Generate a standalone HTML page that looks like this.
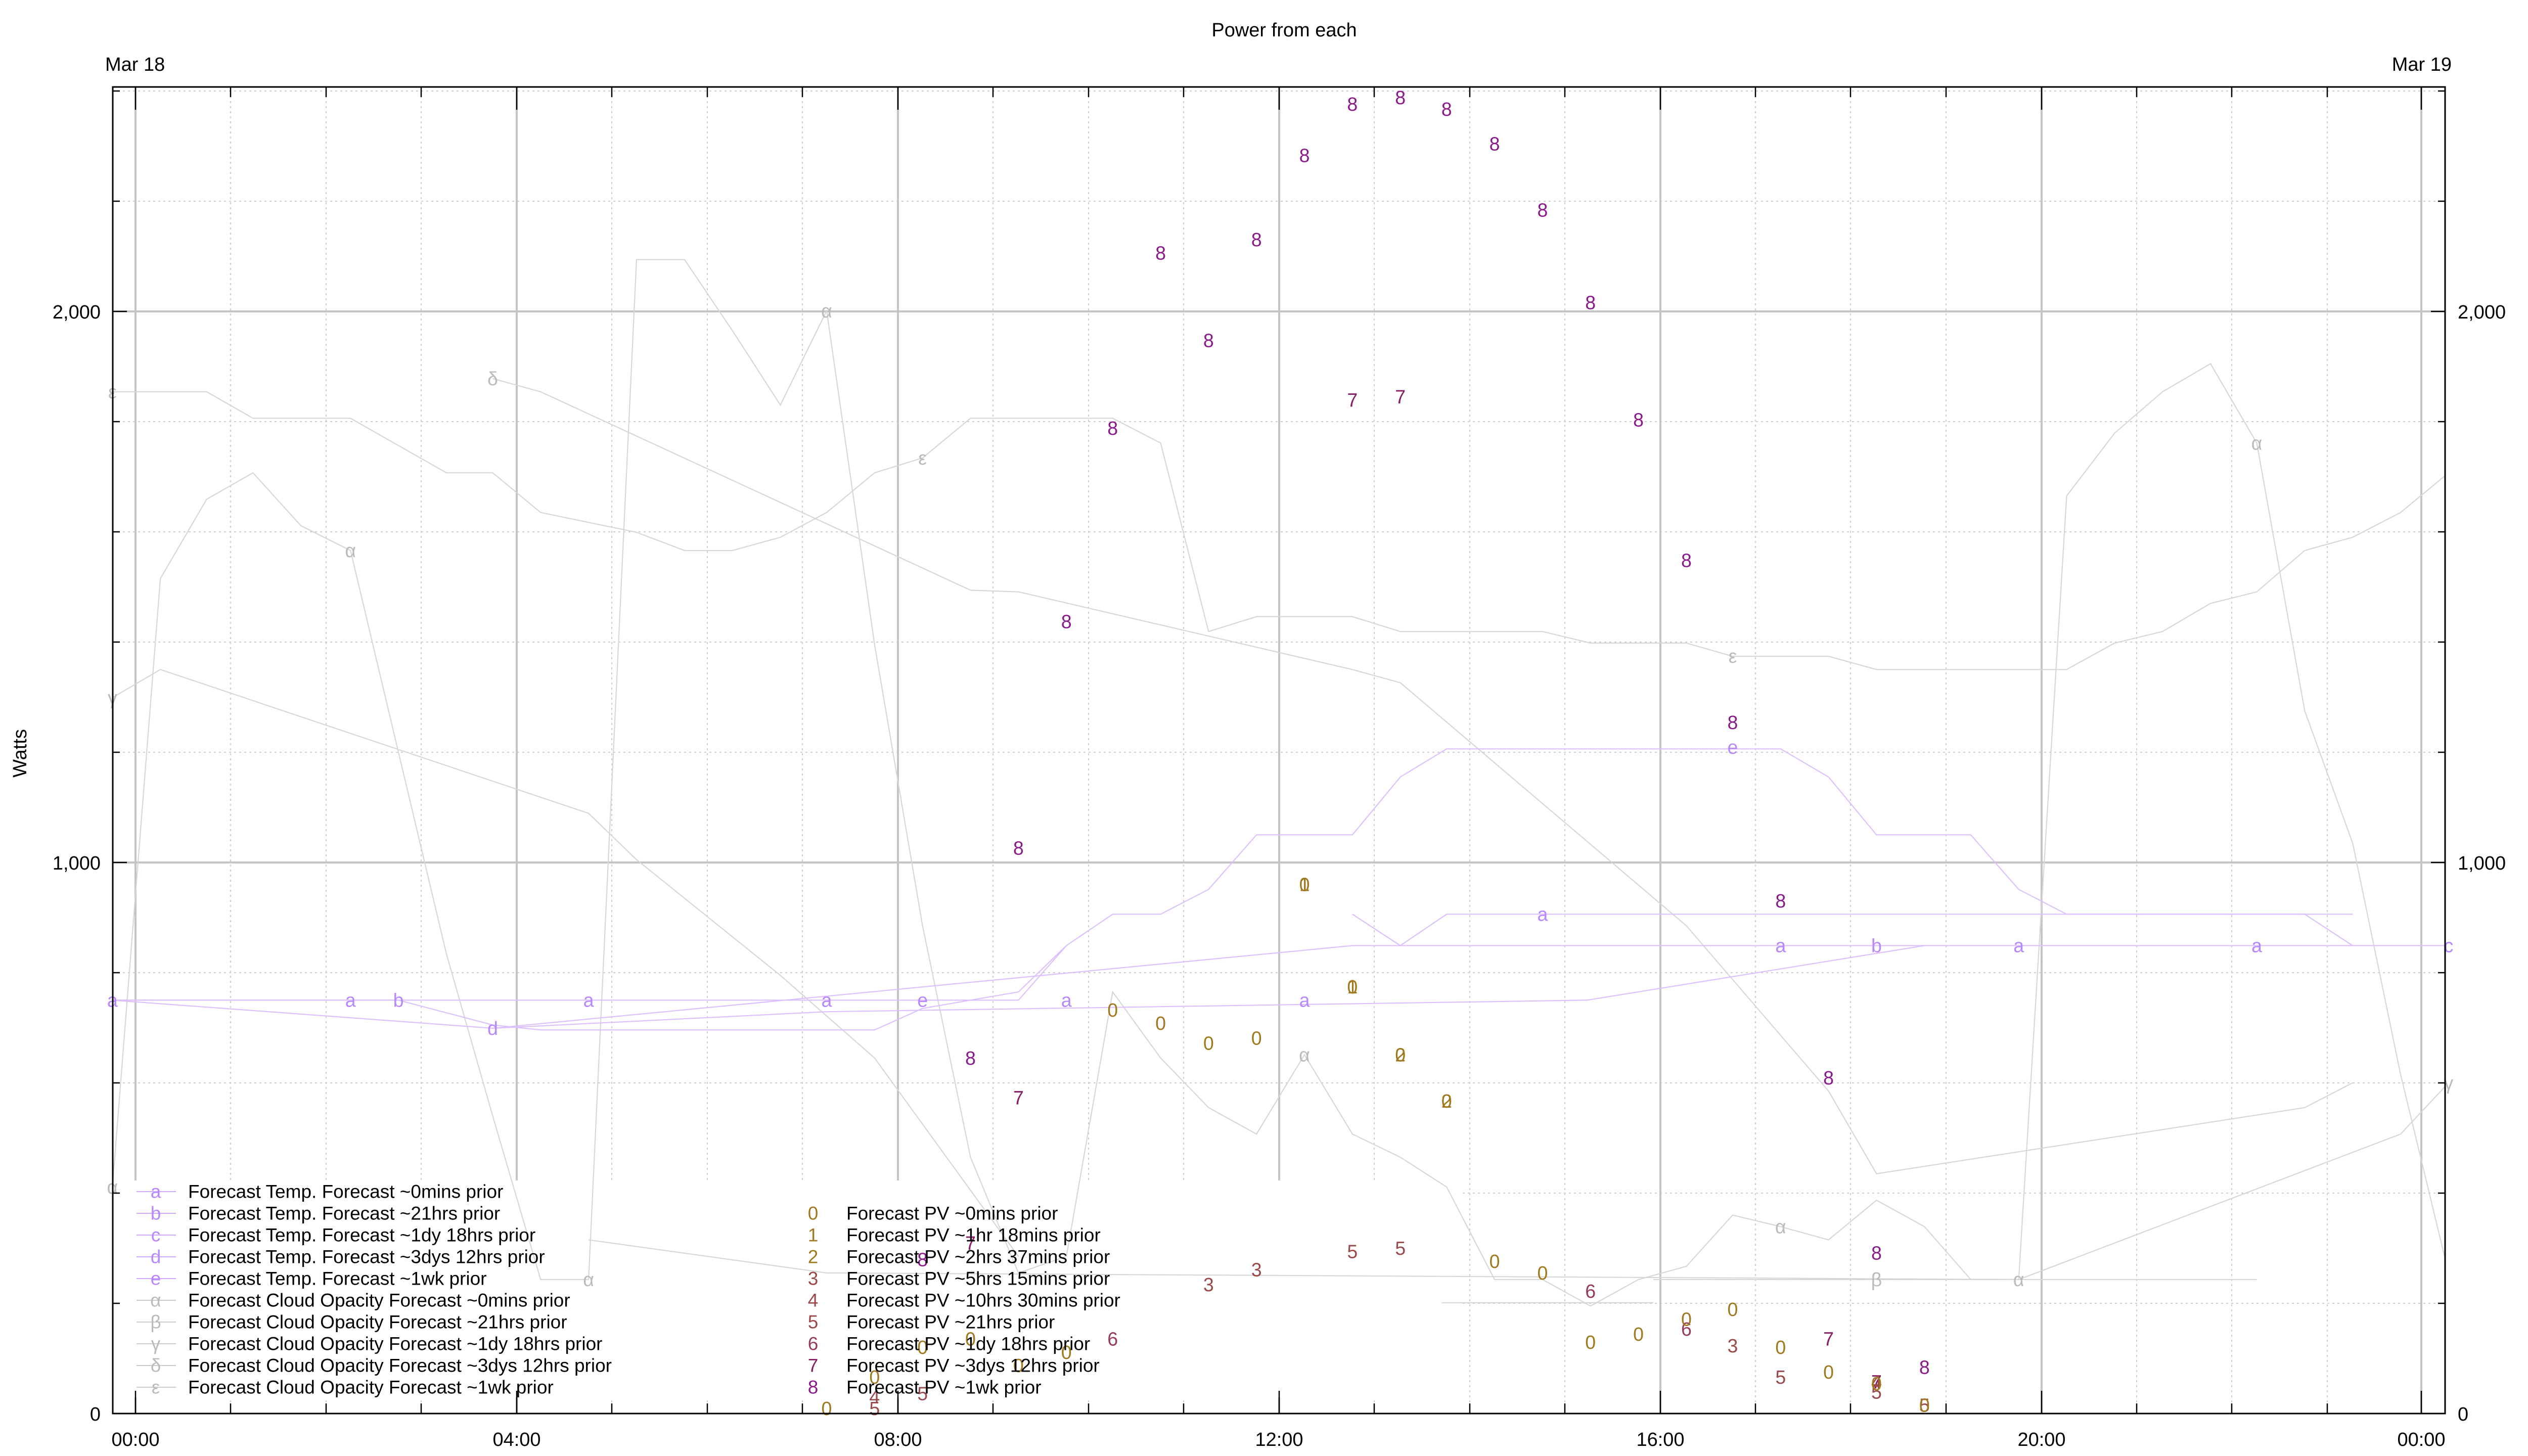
<!DOCTYPE html>
<html><head><meta charset="utf-8"><style>
html,body{margin:0;padding:0;background:#fff}
svg{display:block}
text{font-family:"Liberation Sans",sans-serif}
</style></head><body>
<svg width="5120" height="2880" viewBox="0 0 5120 2880" xmlns="http://www.w3.org/2000/svg">
<rect width="5120" height="2880" fill="#fff"/>
<defs><clipPath id="pc"><rect x="223" y="172" width="4613" height="2624"/></clipPath></defs>
<!-- grid -->
<g stroke="#cfcfcf" stroke-width="2" stroke-dasharray="4,6" fill="none">
<path d="M456 180V2796M645 180V2796M833 180V2796M1022 180V2796M1210 180V2796M1399 180V2796M1587 180V2796M1964 180V2796M2153 180V2796M2341 180V2796M2718 180V2796M2907 180V2796M3095 180V2796M3472 180V2796M3660 180V2796M3849 180V2796M4226 180V2796M4414 180V2796M4603 180V2796"/>
<path d="M223 180H4836M223 398H4836M223 834H4836M223 1052H4836M223 1270H4836M223 1488H4836M223 1924H4836M223 2142H4836M223 2360H4836M223 2578H4836"/>
</g>
<g stroke="#c4c4c4" stroke-width="4" fill="none">
<path d="M268 172V2796M1022 172V2796M1776 172V2796M2530 172V2796M3284 172V2796M4038 172V2796M4789 172V2796"/>
<path d="M223 616H4836M223 1706H4836"/>
</g>
<!-- legend box -->
<rect x="225" y="2335" width="2663" height="429" fill="#fff"/>
<!-- data (preview coords) -->
<g clip-path="url(#pc)">
<g transform="scale(3.27)" fill="none" stroke-width="0.65">
<g stroke="#d6d6d6">
<polyline points="68,718 97,350 125,302 153,286 182,318 212,333 241,455 270,577 298,675 327,774 356,774 385,157 414,157 443,200 472,245 500,188 529,390 558,560 587,700 616,770 645,760 673,600 702,640 731,670 760,686 789,638 818,686 847,700 875,718 904,774 933,774 962,790 991,774 1020,766 1048,735 1077,742 1106,750 1135,726 1164,742 1192,774 1221,774 1250,300 1279,262 1308,237 1337,220 1365,268 1394,430 1423,510 1452,650 1481,770"/>
<polyline points="68,237 125,237 153,253 212,253 270,286 298,286 327,310 385,322 414,333 443,333 472,325 500,310 529,286 558,277 587,253 673,253 702,268 731,382 760,373 818,373 847,382 933,382 962,389 1020,389 1048,397 1106,397 1135,405 1250,405 1279,389 1308,382 1337,365 1365,358 1394,333 1423,325 1452,310 1481,286"/>
<polyline points="298,229 327,237 587,357 616,358 818,405 847,413 1020,560 1106,660 1135,710 1394,670 1423,655"/>
<polyline points="68,422 97,405 356,492 385,520 472,590 529,640 587,720 616,760"/>
<polyline points="356,750 500,770 1221,774 1452,686 1481,655"/>
<polyline points="872,788 1000,788"/>
<polyline points="1000,774 1365,774"/>
</g>
<g stroke="#dcbfff">
<polyline points="68,605 616,605 645,572 673,553 702,553 731,538 760,505 818,505 847,470 875,453 1077,453 1106,470 1135,505 1192,505 1221,538 1250,553 1423,553"/>
<polyline points="68,605 241,605 298,620 327,623 529,623 558,610 616,600 645,572"/>
<polyline points="298,622 500,612 960,605 1164,572 1481,572"/>
<polyline points="68,605 298,622 818,572 1481,572"/>
<polyline points="818,553 847,572 875,553 1394,553 1423,572"/>
</g>
</g>
</g>
<!-- markers -->
<g transform="scale(3.27)" font-size="11.5" text-anchor="middle" dominant-baseline="central">
<g fill="#b888ff">
<text x="68" y="605">a</text><text x="212" y="605">a</text><text x="356" y="605">a</text><text x="500" y="605">a</text><text x="645" y="605">a</text><text x="789" y="605">a</text><text x="933" y="553">a</text><text x="1077" y="572">a</text><text x="1221" y="572">a</text><text x="1365" y="572">a</text>
<text x="241" y="605">b</text><text x="1135" y="572">b</text><text x="1481" y="572">c</text><text x="298" y="622">d</text>
<text x="558" y="605">e</text><text x="1048" y="452">e</text>
</g>
<g fill="#bbb">
<text x="68" y="718">α</text><text x="212" y="333">α</text><text x="356" y="774">α</text><text x="500" y="188">α</text><text x="789" y="638">α</text><text x="1077" y="742">α</text><text x="1221" y="774">α</text><text x="1365" y="268">α</text>
<text x="1135" y="774">β</text><text x="68" y="422">γ</text><text x="1481" y="655">γ</text><text x="298" y="229">δ</text>
<text x="68" y="237">ε</text><text x="558" y="277">ε</text><text x="1048" y="397">ε</text>
</g>
<g fill="#8b1a8b">
<text x="702" y="153">8</text><text x="731" y="206">8</text><text x="760" y="145">8</text><text x="789" y="94">8</text><text x="818" y="63">8</text><text x="847" y="59">8</text><text x="875" y="66">8</text><text x="904" y="87">8</text><text x="933" y="127">8</text><text x="962" y="183">8</text><text x="991" y="254">8</text><text x="1020" y="339">8</text><text x="1048" y="437">8</text><text x="1077" y="545">8</text><text x="1106" y="652">8</text><text x="1135" y="758">8</text><text x="1164" y="827">8</text><text x="673" y="259">8</text><text x="645" y="376">8</text><text x="616" y="513">8</text><text x="587" y="640">8</text><text x="558" y="762">8</text>
</g>
<g fill="#8a1e64">
<text x="818" y="242">7</text><text x="847" y="240">7</text><text x="616" y="664">7</text><text x="587" y="752">7</text><text x="1106" y="810">7</text><text x="1135" y="836">7</text>
</g>
<g fill="#963c5a"><text x="962" y="781">6</text><text x="673" y="810">6</text><text x="1020" y="804">6</text></g>
<g fill="#9a4a4a">
<text x="731" y="777">3</text><text x="760" y="768">3</text><text x="1048" y="814">3</text>
<text x="529" y="845">4</text><text x="1135" y="836">4</text>
<text x="818" y="757">5</text><text x="847" y="755">5</text><text x="1077" y="833">5</text><text x="1135" y="842">5</text><text x="529" y="852">5</text><text x="558" y="843">5</text><text x="1164" y="850">5</text>
</g>
<g fill="#a0781e">
<text x="789" y="535">0</text><text x="818" y="597">0</text><text x="847" y="638">0</text><text x="875" y="666">0</text><text x="904" y="763">0</text><text x="933" y="770">0</text><text x="962" y="812">0</text><text x="991" y="807">0</text><text x="1020" y="798">0</text><text x="1048" y="792">0</text><text x="1077" y="815">0</text><text x="1106" y="830">0</text><text x="1135" y="837">0</text><text x="1164" y="850">0</text><text x="673" y="611">0</text><text x="702" y="619">0</text><text x="731" y="631">0</text><text x="760" y="628">0</text><text x="500" y="852">0</text><text x="529" y="833">0</text><text x="558" y="815">0</text><text x="587" y="810">0</text><text x="616" y="826">0</text><text x="645" y="818">0</text>
<text x="789" y="535">1</text><text x="818" y="597">1</text><text x="847" y="638">2</text><text x="875" y="666">2</text>
</g>
</g>
<!-- frame -->
<rect x="223" y="172" width="4613" height="2624" fill="none" stroke="#000" stroke-width="3"/>
<g stroke="#000" stroke-width="2.5">
<path d="M268 172v45M1022 172v45M1776 172v45M2530 172v45M3284 172v45M4038 172v45M4789 172v45M268 2796v-45M1022 2796v-45M1776 2796v-45M2530 2796v-45M3284 2796v-45M4038 2796v-45M4789 2796v-45"/>
<path d="M456 172v20M645 172v20M833 172v20M1210 172v20M1399 172v20M1587 172v20M1964 172v20M2153 172v20M2341 172v20M2718 172v20M2907 172v20M3095 172v20M3472 172v20M3660 172v20M3849 172v20M4226 172v20M4414 172v20M4603 172v20M456 2796v-20M645 2796v-20M833 2796v-20M1210 2796v-20M1399 2796v-20M1587 2796v-20M1964 2796v-20M2153 2796v-20M2341 2796v-20M2718 2796v-20M2907 2796v-20M3095 2796v-20M3472 2796v-20M3660 2796v-20M3849 2796v-20M4226 2796v-20M4414 2796v-20M4603 2796v-20"/>
<path d="M223 616h28M223 1706h28M4836 616h-28M4836 1706h-28M223 180h14M223 398h14M223 834h14M223 1052h14M223 1270h14M223 1488h14M223 1924h14M223 2142h14M223 2360h14M223 2578h14M4836 180h-14M4836 398h-14M4836 834h-14M4836 1052h-14M4836 1270h-14M4836 1488h-14M4836 1924h-14M4836 2142h-14M4836 2360h-14M4836 2578h-14"/>
</g>
<!-- labels -->
<g font-size="38" fill="#000">
<text x="2540" y="72" text-anchor="middle">Power from each</text>
<text x="208" y="140">Mar 18</text>
<text x="4849" y="140" text-anchor="end">Mar 19</text>
<text x="199" y="630" text-anchor="end">2,000</text>
<text x="199" y="1720" text-anchor="end">1,000</text>
<text x="199" y="2810" text-anchor="end">0</text>
<text x="4861" y="630">2,000</text>
<text x="4861" y="1720">1,000</text>
<text x="4861" y="2810">0</text>
<text x="268" y="2860" text-anchor="middle">00:00</text>
<text x="1022" y="2860" text-anchor="middle">04:00</text>
<text x="1776" y="2860" text-anchor="middle">08:00</text>
<text x="2530" y="2860" text-anchor="middle">12:00</text>
<text x="3284" y="2860" text-anchor="middle">16:00</text>
<text x="4038" y="2860" text-anchor="middle">20:00</text>
<text x="4789" y="2860" text-anchor="middle">00:00</text>
<text transform="translate(52,1490) rotate(-90)" text-anchor="middle">Watts</text>
<text transform="translate(5044,1490) rotate(-90)" text-anchor="middle">Watts</text>
</g>
<!-- legend -->
<g font-size="37" dominant-baseline="central">
<g stroke-width="2" fill="none">
<path d="M270 2357h78M270 2400h78M270 2443h78M270 2486h78M270 2529h78" stroke="#d0a8ff"/>
<path d="M270 2572h78M270 2615h78M270 2658h78M270 2701h78M270 2744h78" stroke="#ccc"/>
</g>
<g text-anchor="middle" fill="#b888ff"><text x="308" y="2357">a</text><text x="308" y="2400">b</text><text x="308" y="2443">c</text><text x="308" y="2486">d</text><text x="308" y="2529">e</text></g>
<g text-anchor="middle" fill="#bbb"><text x="308" y="2572">α</text><text x="308" y="2615">β</text><text x="308" y="2658">γ</text><text x="308" y="2701">δ</text><text x="308" y="2744">ε</text></g>
<g fill="#000">
<text x="372" y="2357">Forecast Temp. Forecast ~0mins prior</text>
<text x="372" y="2400">Forecast Temp. Forecast ~21hrs prior</text>
<text x="372" y="2443">Forecast Temp. Forecast ~1dy 18hrs prior</text>
<text x="372" y="2486">Forecast Temp. Forecast ~3dys 12hrs prior</text>
<text x="372" y="2529">Forecast Temp. Forecast ~1wk prior</text>
<text x="372" y="2572">Forecast Cloud Opacity Forecast ~0mins prior</text>
<text x="372" y="2615">Forecast Cloud Opacity Forecast ~21hrs prior</text>
<text x="372" y="2658">Forecast Cloud Opacity Forecast ~1dy 18hrs prior</text>
<text x="372" y="2701">Forecast Cloud Opacity Forecast ~3dys 12hrs prior</text>
<text x="372" y="2744">Forecast Cloud Opacity Forecast ~1wk prior</text>
</g>
<g text-anchor="middle">
<text x="1608" y="2400" fill="#a0781e">0</text><text x="1608" y="2443" fill="#a0781e">1</text><text x="1608" y="2486" fill="#a0781e">2</text>
<text x="1608" y="2529" fill="#9a4a4a">3</text><text x="1608" y="2572" fill="#9a4a4a">4</text><text x="1608" y="2615" fill="#9a4a4a">5</text>
<text x="1608" y="2658" fill="#963c5a">6</text><text x="1608" y="2701" fill="#8a1e64">7</text><text x="1608" y="2744" fill="#8b1a8b">8</text>
</g>
<g fill="#000">
<text x="1674" y="2400">Forecast PV ~0mins prior</text>
<text x="1674" y="2443">Forecast PV ~1hr 18mins prior</text>
<text x="1674" y="2486">Forecast PV ~2hrs 37mins prior</text>
<text x="1674" y="2529">Forecast PV ~5hrs 15mins prior</text>
<text x="1674" y="2572">Forecast PV ~10hrs 30mins prior</text>
<text x="1674" y="2615">Forecast PV ~21hrs prior</text>
<text x="1674" y="2658">Forecast PV ~1dy 18hrs prior</text>
<text x="1674" y="2701">Forecast PV ~3dys 12hrs prior</text>
<text x="1674" y="2744">Forecast PV ~1wk prior</text>
</g>
</g>
</svg>
</body></html>
